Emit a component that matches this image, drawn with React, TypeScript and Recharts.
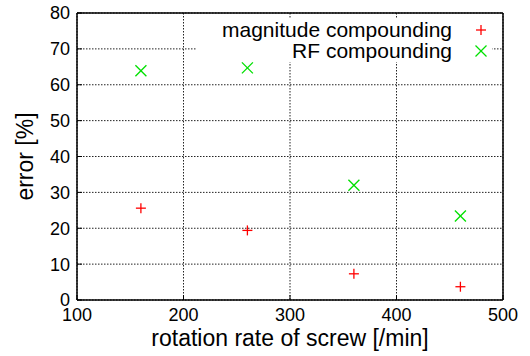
import { CartesianGrid, Label, Legend, Scatter, ScatterChart, XAxis, YAxis } from "recharts";

const rates = [160, 260, 360, 460];
const magnitudeError = [25.6, 19.4, 7.3, 3.7];
const rfError = [63.9, 64.7, 32.0, 23.4];
const xTicks = [100, 200, 300, 400, 500];
const yTicks = [0, 10, 20, 30, 40, 50, 60, 70, 80];

const magnitudeData = rates.map((rate, i) => ({ rate, error: magnitudeError[i] }));
const rfData = rates.map((rate, i) => ({ rate, error: rfError[i] }));

const RED = "#ff0000";
const GREEN = "#00e000";
const FONT = "'Liberation Sans', Arial, sans-serif";

function PlusMark({ cx, cy }: { cx?: number; cy?: number }) {
  if (cx == null || cy == null) return null;
  return (
    <g stroke={RED} strokeWidth={1.3}>
      <line x1={cx - 5} y1={cy} x2={cx + 5} y2={cy} />
      <line x1={cx} y1={cy - 5} x2={cx} y2={cy + 5} />
    </g>
  );
}

function CrossMark({ cx, cy }: { cx?: number; cy?: number }) {
  if (cx == null || cy == null) return null;
  return (
    <g stroke={GREEN} strokeWidth={1.3}>
      <line x1={cx - 5.5} y1={cy - 5.5} x2={cx + 5.5} y2={cy + 5.5} />
      <line x1={cx - 5.5} y1={cy + 5.5} x2={cx + 5.5} y2={cy - 5.5} />
    </g>
  );
}

function LegendBox() {
  const rows = [
    { name: "magnitude compounding", mark: <PlusMark cx={6} cy={6} /> },
    { name: "RF compounding", mark: <CrossMark cx={6} cy={6} /> }
  ];
  return (
    <div style={{ background: "#fff", height: 43, paddingTop: 0 }}>
      {rows.map((row, i) => (
        <div
          key={row.name}
          style={{
            display: "flex",
            justifyContent: "flex-end",
            alignItems: "center",
            height: 21,
            marginTop: i === 0 ? 1 : 0,
            paddingRight: 5,
            fontSize: 21,
            color: "#000",
            lineHeight: "21px"
          }}
        >
          <span>{row.name}</span>
          <svg width={12} height={12} style={{ marginLeft: 23 }}>
            {row.mark}
          </svg>
        </div>
      ))}
    </div>
  );
}

const axisLine = { stroke: "#000", strokeWidth: 1.5 };
const tickLine = { stroke: "#000", strokeWidth: 1 };
const tickStyle = { fill: "#000", fontSize: 18, fontFamily: FONT };

export default function App() {
  return (
    <div style={{ position: "absolute", left: 0, top: 0, fontFamily: FONT, background: "#fff" }}>
      <ScatterChart width={530} height={356} margin={{ top: 3, right: 17, bottom: 0, left: 0 }}>
        <CartesianGrid stroke="#222" strokeDasharray="1.5 1.5" />
        <XAxis
          type="number"
          dataKey="rate"
          domain={[100, 500]}
          ticks={xTicks}
          height={56}
          tickSize={-5}
          tickMargin={13}
          axisLine={axisLine}
          tickLine={tickLine}
          tick={tickStyle}
          allowDataOverflow
        >
          <Label
            value="rotation rate of screw [/min]"
            position="insideBottom"
            offset={10}
            style={{ fontSize: 23, fill: "#000", fontFamily: FONT }}
          />
        </XAxis>
        <XAxis
          xAxisId="top"
          orientation="top"
          type="number"
          domain={[100, 500]}
          ticks={xTicks}
          height={10}
          tickSize={-5}
          tick={false}
          axisLine={axisLine}
          tickLine={tickLine}
        />
        <YAxis
          type="number"
          dataKey="error"
          domain={[0, 80]}
          ticks={yTicks}
          width={77}
          tickSize={-5}
          tickMargin={12}
          axisLine={axisLine}
          tickLine={tickLine}
          tick={tickStyle}
          allowDataOverflow
        >
          <Label
            value="error [%]"
            angle={-90}
            position="insideLeft"
            offset={25}
            style={{ fontSize: 23, fill: "#000", fontFamily: FONT, textAnchor: "middle" }}
          />
        </YAxis>
        <YAxis
          yAxisId="right"
          orientation="right"
          type="number"
          domain={[0, 80]}
          ticks={yTicks}
          width={10}
          tickSize={-5}
          tick={false}
          axisLine={axisLine}
          tickLine={tickLine}
        />
        <Legend
          layout="vertical"
          align="center"
          verticalAlign="middle"
          content={() => <LegendBox />}
          wrapperStyle={{ top: 18, left: 197, width: 295, height: 43 }}
        />
        <Scatter
          name="magnitude compounding"
          data={magnitudeData}
          shape={(p: any) => <PlusMark cx={p.cx} cy={p.cy} />}
          isAnimationActive={false}
        />
        <Scatter
          name="RF compounding"
          data={rfData}
          shape={(p: any) => <CrossMark cx={p.cx} cy={p.cy} />}
          isAnimationActive={false}
        />
      </ScatterChart>
    </div>
  );
}
